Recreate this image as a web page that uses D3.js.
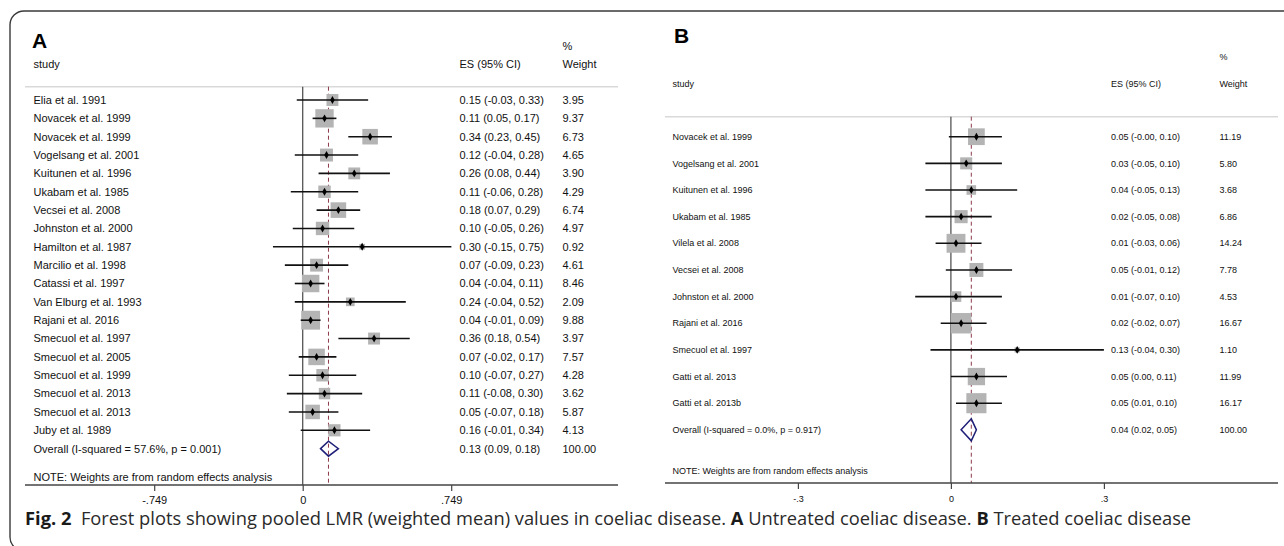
<!DOCTYPE html>
<html>
<head>
<meta charset="utf-8">
<script src="https://cdn.jsdelivr.net/npm/d3@7"></script>
<style>
  body { margin: 0; background: #fff; }
  svg { display: block; }
  text { font-family: "Liberation Sans", Arial, sans-serif; fill: #111; }
</style>
</head>
<body>
<div id="chart"></div>
<script>
// panel A - untreated coeliac disease
var studiesA = ["Elia et al. 1991", "Novacek et al. 1999", "Novacek et al. 1999", "Vogelsang et al. 2001",
  "Kuitunen et al. 1996", "Ukabam et al. 1985", "Vecsei et al. 2008", "Johnston et al. 2000",
  "Hamilton et al. 1987", "Marcilio et al. 1998", "Catassi et al. 1997", "Van Elburg et al. 1993",
  "Rajani et al. 2016", "Smecuol et al. 1997", "Smecuol et al. 2005", "Smecuol et al. 1999",
  "Smecuol et al. 2013", "Smecuol et al. 2013", "Juby et al. 1989"];
var esA = [0.15, 0.11, 0.34, 0.12, 0.26, 0.11, 0.18, 0.10, 0.30, 0.07, 0.04, 0.24, 0.04, 0.36, 0.07, 0.10, 0.11, 0.05, 0.16];
var lowA = [-0.03, 0.05, 0.23, -0.04, 0.08, -0.06, 0.07, -0.05, -0.15, -0.09, -0.04, -0.04, -0.01, 0.18, -0.02, -0.07, -0.08, -0.07, -0.01];
var highA = [0.33, 0.17, 0.45, 0.28, 0.44, 0.28, 0.29, 0.26, 0.75, 0.23, 0.11, 0.52, 0.09, 0.54, 0.17, 0.27, 0.30, 0.18, 0.34];
var weightA = [3.95, 9.37, 6.73, 4.65, 3.90, 4.29, 6.74, 4.97, 0.92, 4.61, 8.46, 2.09, 9.88, 3.97, 7.57, 4.28, 3.62, 5.87, 4.13];
var overallA = { label: "Overall  (I-squared = 57.6%, p = 0.001)", es: 0.13, low: 0.09, high: 0.18, weight: 100 };
var ticksA = [-0.749, 0, 0.749];
var tickLabelsA = ["-.749", "0", ".749"];

// panel B - treated coeliac disease
var studiesB = ["Novacek et al. 1999", "Vogelsang et al. 2001", "Kuitunen et al. 1996", "Ukabam et al. 1985",
  "Vilela et al. 2008", "Vecsei et al. 2008", "Johnston et al. 2000", "Rajani et al. 2016",
  "Smecuol et al. 1997", "Gatti et al. 2013", "Gatti et al. 2013b"];
var esB = [0.05, 0.03, 0.04, 0.02, 0.01, 0.05, 0.01, 0.02, 0.13, 0.05, 0.05];
var lowB = [-0.004, -0.05, -0.05, -0.05, -0.03, -0.01, -0.07, -0.02, -0.04, 0.00, 0.01];
var highB = [0.10, 0.10, 0.13, 0.08, 0.06, 0.12, 0.10, 0.07, 0.30, 0.11, 0.10];
var weightB = [11.19, 5.80, 3.68, 6.86, 14.24, 7.78, 4.53, 16.67, 1.10, 11.99, 16.17];
var overallB = { label: "Overall  (I-squared = 0.0%, p = 0.917)", es: 0.04, low: 0.02, high: 0.05, weight: 100 };
var ticksB = [-0.3, 0, 0.3];
var tickLabelsB = ["-.3", "0", ".3"];

var W = 1284, H = 546;
var svg = d3.select("#chart").append("svg").attr("width", W).attr("height", H);

// rounded frame, partly cut by the picture edge
svg.append("rect").attr("x", 10).attr("y", 11).attr("width", 1300).attr("height", 540)
  .attr("rx", 14).attr("fill", "none").attr("stroke", "#3a3a3a").attr("stroke-width", 1.4);

function fmt(v) { return v.toFixed(2); }
function esText(e, l, h) { return fmt(e) + " (" + fmt(l) + ", " + fmt(h) + ")"; }

function drawPanel(p) {
  var g = svg.append("g");
  var x = d3.scaleLinear().domain([p.ticks[0], p.ticks[2]]).range(p.xRange);
  var n = p.studies.length;
  var y = d3.scaleLinear().domain([0, 1]).range([p.row0, p.row0 + p.rowStep]);

  g.append("text").attr("x", p.letterX).attr("y", p.letterY).text(p.letter)
    .style("font-size", "21px").style("font-weight", "bold").style("fill", "#000");

  var hs = p.fontSize + "px";
  g.append("text").attr("x", p.textX).attr("y", p.headY).text("study").style("font-size", hs);
  g.append("text").attr("x", p.esX).attr("y", p.headY).text("ES (95% CI)").style("font-size", hs);
  g.append("text").attr("x", p.wX).attr("y", p.headY).text("Weight").style("font-size", hs);
  g.append("text").attr("x", p.wX).attr("y", p.pctY).text("%").style("font-size", hs);

  g.append("line").attr("x1", p.lineX0).attr("x2", p.lineX1).attr("y1", p.headLineY).attr("y2", p.headLineY)
    .attr("stroke", "#d9d9d9").attr("stroke-width", 1.5);

  // zero line and overall effect line
  g.append("line").attr("x1", x(0)).attr("x2", x(0)).attr("y1", p.headLineY).attr("y2", p.axisY)
    .attr("stroke", "#555").attr("stroke-width", 1.3);
  g.append("line").attr("x1", x(p.overall.es)).attr("x2", x(p.overall.es)).attr("y1", p.headLineY).attr("y2", p.axisY)
    .attr("stroke", "#8c3a4a").attr("stroke-width", 1).attr("stroke-dasharray", "4,3");

  var idx = d3.range(n);
  var rows = g.selectAll("g.row").data(idx).enter().append("g").attr("class", "row");

  rows.append("rect")
    .attr("x", function (i) { return x(p.es[i]) - p.k * Math.sqrt(p.weight[i]) / 2; })
    .attr("y", function (i) { return y(i) - p.k * Math.sqrt(p.weight[i]) / 2; })
    .attr("width", function (i) { return p.k * Math.sqrt(p.weight[i]); })
    .attr("height", function (i) { return p.k * Math.sqrt(p.weight[i]); })
    .attr("fill", "#b4b4b4");
  rows.append("line")
    .attr("x1", function (i) { return x(p.low[i]); })
    .attr("x2", function (i) { return x(p.high[i]); })
    .attr("y1", function (i) { return y(i); })
    .attr("y2", function (i) { return y(i); })
    .attr("stroke", "#111").attr("stroke-width", 1.6);
  rows.append("path")
    .attr("d", d3.symbol().type(d3.symbolDiamond).size(18))
    .attr("transform", function (i) { return "translate(" + x(p.es[i]) + "," + y(i) + ")"; })
    .attr("fill", "#000");

  rows.append("text").attr("x", p.textX).attr("y", function (i) { return y(i); }).attr("dy", "0.35em")
    .text(function (i) { return p.studies[i]; }).style("font-size", hs);
  rows.append("text").attr("x", p.esX).attr("y", function (i) { return y(i); }).attr("dy", "0.35em")
    .text(function (i) { return esText(p.es[i], p.low[i], p.high[i]); }).style("font-size", hs);
  rows.append("text").attr("x", p.wX).attr("y", function (i) { return y(i); }).attr("dy", "0.35em")
    .text(function (i) { return fmt(p.weight[i]); }).style("font-size", hs);

  // overall row
  var oy = y(n), o = p.overall;
  g.append("path")
    .attr("d", "M" + x(o.low) + "," + oy + "L" + x(o.es) + "," + (oy - p.dh) + "L" + x(o.high) + "," + oy +
      "L" + x(o.es) + "," + (oy + p.dh) + "Z")
    .attr("fill", "none").attr("stroke", "#1f1f78").attr("stroke-width", 1.5);
  g.append("text").attr("x", p.textX).attr("y", oy).attr("dy", "0.35em").text(o.label).style("font-size", hs);
  g.append("text").attr("x", p.esX).attr("y", oy).attr("dy", "0.35em").text(esText(o.es, o.low, o.high)).style("font-size", hs);
  g.append("text").attr("x", p.wX).attr("y", oy).attr("dy", "0.35em").text(fmt(o.weight)).style("font-size", hs);

  g.append("text").attr("x", p.textX).attr("y", p.noteY).attr("dy", "0.35em")
    .text("NOTE: Weights are from random effects analysis").style("font-size", hs);

  // axis
  g.append("line").attr("x1", p.lineX0).attr("x2", p.lineX1).attr("y1", p.axisY).attr("y2", p.axisY)
    .attr("stroke", "#444").attr("stroke-width", 1.3);
  var ax = d3.axisBottom(x).tickValues(p.ticks).tickSize(6).tickPadding(p.tickPad).tickSizeOuter(0)
    .tickFormat(function (d, i) { return p.tickLabels[i]; });
  var axg = g.append("g").attr("transform", "translate(0," + p.axisY + ")").call(ax);
  axg.select(".domain").remove();
  axg.selectAll("line").attr("stroke", "#444").attr("stroke-width", 1.2);
  axg.selectAll("text").style("font-size", hs).style("font-family", "Liberation Sans, Arial, sans-serif").attr("fill", "#111");
}

drawPanel({
  letter: "A", letterX: 32, letterY: 48,
  studies: studiesA, es: esA, low: lowA, high: highA, weight: weightA, overall: overallA,
  ticks: ticksA, tickLabels: tickLabelsA, xRange: [154.2, 451.2],
  row0: 100, rowStep: 18.35, k: 6, dh: 7.5, fontSize: 11,
  textX: 33.5, esX: 459.5, wX: 562.5, headY: 68, pctY: 50,
  headLineY: 86.7, lineX0: 25, lineX1: 618, axisY: 485, noteY: 476.7, tickPad: 5
});

drawPanel({
  letter: "B", letterX: 674, letterY: 43,
  studies: studiesB, es: esB, low: lowB, high: highB, weight: weightB, overall: overallB,
  ticks: ticksB, tickLabels: tickLabelsB, xRange: [797.9, 1103.9],
  row0: 136.7, rowStep: 26.65, k: 5, dh: 11, fontSize: 9,
  textX: 672.5, esX: 1111, wX: 1219.5, headY: 86.5, pctY: 60,
  headLineY: 116.7, lineX0: 665, lineX1: 1278, axisY: 483, noteY: 471, tickPad: 7
});

// caption
var cap = svg.append("text").attr("x", 25).attr("y", 525)
  .style("font-family", "'Open Sans', 'Noto Sans', sans-serif").style("font-size", "16px");
cap.append("tspan").text("Fig. 2").style("font-weight", "bold").style("fill", "#1a1a1a");
cap.append("tspan").text("\u00a0\u00a0Forest plots showing pooled LMR (weighted mean) values in coeliac disease. ").style("fill", "#2a2a2a");
cap.append("tspan").text("A").style("font-weight", "bold").style("fill", "#1a1a1a");
cap.append("tspan").text(" Untreated coeliac disease. ").style("fill", "#2a2a2a");
cap.append("tspan").text("B").style("font-weight", "bold").style("fill", "#1a1a1a");
cap.append("tspan").text(" Treated coeliac disease").style("fill", "#2a2a2a");
var capLen = cap.node().getComputedTextLength();
cap.style("font-size", (16 * 1167 / capLen) + "px");
</script>
</body>
</html>
